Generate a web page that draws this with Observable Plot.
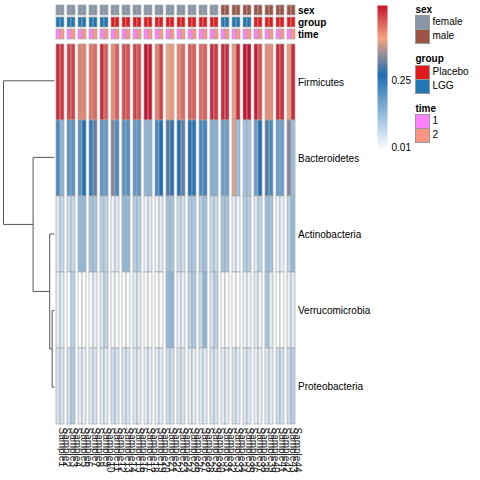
<!DOCTYPE html>
<html>
<head>
<meta charset="utf-8">
<script src="https://cdn.jsdelivr.net/npm/d3@7"></script>
<script src="https://cdn.jsdelivr.net/npm/@observablehq/plot@0.6"></script>
<style>
  html, body { margin: 0; padding: 0; background: #fff; }
  #chart { position: relative; width: 480px; height: 480px; overflow: hidden; background: #fff;
           font-family: "Liberation Sans", Arial, Helvetica, sans-serif; color: #000; }
  #chart > * { position: absolute; }
  .lg-title { font-weight: bold; font-size: 10px; line-height: 12px; }
  .lg-label { font-size: 10px; line-height: 14px; }
  .lg-swatch { box-sizing: border-box; border: 1px solid #999; }
</style>
</head>
<body>
<div id="chart"></div>
<script>
// ---------------- data ----------------
const subjects = ["P01","P02","P03","P04","P05","P06","P07","P08","P09","P10","P11",
                  "P12","P13","P14","P15","P16","P17","P18","P19","P20","P21","P22"];
const timePoints = ["1", "2"];
const sampleLabels = Array.from({length: 44}, (_, i) => "Sample" + (i + 1));
const sexBySubject = ["female","female","female","female","female","female","female","female",
                      "female","female","female","female","female","female","female",
                      "male","male","male","male","male","male","male"];
const groupBySubject = ["LGG","LGG","LGG","LGG","LGG","Placebo","Placebo","Placebo","Placebo",
                        "Placebo","Placebo","Placebo","Placebo","Placebo","Placebo",
                        "LGG","LGG","LGG","Placebo","Placebo","Placebo","Placebo"];
const phyla = ["Firmicutes","Bacteroidetes","Actinobacteria","Verrucomicrobia","Proteobacteria"];

// values per sample (subject order, time 1 then time 2)
const firmicutes = [0.50,0.49, 0.48,0.48, 0.43,0.43, 0.44,0.45, 0.50,0.46, 0.42,0.46, 0.47,0.47,
  0.48,0.47, 0.52,0.51, 0.43,0.48, 0.40,0.41, 0.43,0.45, 0.46,0.46, 0.45,0.46, 0.50,0.49,
  0.50,0.50, 0.41,0.50, 0.52,0.52, 0.51,0.47, 0.42,0.42, 0.50,0.50, 0.41,0.50];
const bacteroidetes = [0.22,0.14, 0.20,0.20, 0.20,0.27, 0.25,0.31, 0.20,0.19, 0.33,0.22, 0.20,0.21,
  0.19,0.20, 0.13,0.14, 0.22,0.27, 0.30,0.28, 0.27,0.31, 0.27,0.26, 0.22,0.23, 0.15,0.15,
  0.18,0.18, 0.39,0.12, 0.11,0.11, 0.18,0.27, 0.30,0.22, 0.18,0.18, 0.33,0.12];
const actinobacteria = [0.04,0.07, 0.06,0.07, 0.13,0.13, 0.11,0.11, 0.09,0.08, 0.02,0.04, 0.13,0.13,
  0.09,0.09, 0.02,0.04, 0.02,0.04, 0.11,0.11, 0.07,0.06, 0.10,0.10, 0.09,0.12, 0.07,0.07,
  0.11,0.11, 0.03,0.02, 0.09,0.09, 0.04,0.08, 0.12,0.11, 0.02,0.03, 0.08,0.13];
const verrucomicrobia = [0.03,0.04, 0.01,0.09, 0.005,0.005, 0.01,0.03, 0.04,0.08, 0.01,0.01, 0.005,0.01,
  0.04,0.04, 0.005,0.01, 0.005,0.005, 0.13,0.14, 0.03,0.03, 0.08,0.10, 0.07,0.14, 0.05,0.09,
  0.01,0.01, 0.005,0.005, 0.02,0.02, 0.04,0.02, 0.11,0.04, 0.005,0.005, 0.03,0.04];
const proteobacteria = [0.05,0.05, 0.06,0.10, 0.03,0.03, 0.04,0.05, 0.04,0.04, 0.06,0.05, 0.05,0.05,
  0.045,0.04, 0.035,0.035, 0.035,0.04, 0.06,0.06, 0.05,0.05, 0.035,0.035, 0.04,0.04, 0.05,0.05,
  0.035,0.035, 0.05,0.04, 0.045,0.045, 0.03,0.03, 0.045,0.04, 0.06,0.06, 0.065,0.09];

// row dendrogram (hclust-like merges and heights)
const treeMerges = [["Verrucomicrobia","Proteobacteria"], ["Actinobacteria","n0"],
                    ["Bacteroidetes","n1"], ["Firmicutes","n2"]];
const treeHeights = [0.046, 0.094, 0.42, 1.0];

// colours
const heatStops = [0, 0.27, 0.40, 0.52];
const heatColors = ["#ffffff", "#1f6fb4", "#f4a582", "#c8102e"];
const legendRange = [-0.011, 0.518];
const legendTicks = [0.01, 0.25];
const sexLevels = ["female", "male"];
const sexColors = ["#8797a8", "#9f5345"];
const groupLevels = ["Placebo", "LGG"];
const groupColors = ["#e31a1c", "#1f78b4"];
const timeColors = ["#ff80ff", "#fc9484"];

// ---------------- build tables ----------------
const seriesByPhylum = {Firmicutes: firmicutes, Bacteroidetes: bacteroidetes,
  Actinobacteria: actinobacteria, Verrucomicrobia: verrucomicrobia, Proteobacteria: proteobacteria};
const samples = [];
subjects.forEach((s, i) => timePoints.forEach((t, j) => {
  samples.push({subject: s, time: t, label: sampleLabels[i * 2 + j], idx: i * 2 + j,
                sex: sexBySubject[i], group: groupBySubject[i]});
}));
const heatCells = [];
for (const p of phyla) for (const s of samples)
  heatCells.push({subject: s.subject, time: s.time, phylum: p, value: seriesByPhylum[p][s.idx]});
const annoRows = ["sex", "group", "time"];
const annoCells = [];
for (const s of samples) {
  annoCells.push({subject: s.subject, time: s.time, row: "sex", level: s.sex});
  annoCells.push({subject: s.subject, time: s.time, row: "group", level: s.group});
  annoCells.push({subject: s.subject, time: s.time, row: "time", level: s.time});
}

const font = '"Liberation Sans", Arial, Helvetica, sans-serif';
const baseStyle = {fontFamily: font, fontSize: "10px", background: "transparent", overflow: "visible"};
const heatColorScale = {type: "linear", domain: heatStops, range: heatColors,
                        interpolate: d3.interpolateRgb, clamp: true};
const chart = document.getElementById("chart");
function place(el, left, top) { el.style.left = left + "px"; el.style.top = top + "px"; chart.appendChild(el); }

const mLeft = 54, mRight = 183, fxPad = 0.284;
const cellStroke = "#a8a8a8", cellStrokeWidth = 0.7;

// ---------------- heatmap ----------------
const heat = Plot.plot({
  width: 480, height: 480, marginTop: 42, marginBottom: 55, marginLeft: mLeft, marginRight: mRight,
  style: baseStyle,
  fx: {domain: subjects, paddingInner: fxPad, paddingOuter: 0, axis: null, label: null},
  x: {domain: timePoints, padding: 0, axis: null},
  y: {domain: phyla, padding: 0, label: null},
  color: heatColorScale,
  marks: [
    Plot.cell(heatCells, {fx: "subject", x: "time", y: "phylum", fill: "value",
                          stroke: cellStroke, strokeWidth: cellStrokeWidth}),
    Plot.text(samples, {fx: "subject", x: "time", text: "label", frameAnchor: "bottom", dy: 2,
                        rotate: 90, textAnchor: "start", fontSize: 10, fill: "#222"}),
    Plot.axisY({anchor: "right", tickSize: 0, tickPadding: 2.5, label: null, fontSize: 10})
  ]
});
place(heat, 0, 0);

// ---------------- annotation bars ----------------
const anno = Plot.plot({
  width: 480, height: 41, marginTop: 5, marginBottom: 1, marginLeft: mLeft, marginRight: mRight,
  style: baseStyle,
  fx: {domain: subjects, paddingInner: fxPad, paddingOuter: 0, axis: null, label: null},
  x: {domain: timePoints, padding: 0, axis: null},
  y: {domain: annoRows, paddingInner: 0.15, paddingOuter: 0, label: null},
  color: {type: "ordinal", domain: [...sexLevels, ...groupLevels, ...timePoints],
          range: [...sexColors, ...groupColors, ...timeColors]},
  marks: [
    Plot.cell(annoCells, {fx: "subject", x: "time", y: "row", fill: "level",
                          stroke: cellStroke, strokeWidth: cellStrokeWidth}),
    Plot.axisY({anchor: "right", tickSize: 0, tickPadding: 2.5, label: null, fontWeight: "bold", fontSize: 10})
  ]
});
place(anno, 0, 0);

// ---------------- dendrogram ----------------
const nodePos = {};
phyla.forEach((p, i) => nodePos[p] = {y: i, h: 0});
const treeLinks = [];
treeMerges.forEach(([a, b], k) => {
  const h = treeHeights[k], A = nodePos[a], B = nodePos[b];
  treeLinks.push({x1: h, x2: h, y1: A.y, y2: B.y});
  treeLinks.push({x1: A.h, x2: h, y1: A.y, y2: A.y});
  treeLinks.push({x1: B.h, x2: h, y1: B.y, y2: B.y});
  nodePos["n" + k] = {y: (A.y + B.y) / 2, h};
});
const dendro = Plot.plot({
  width: 56, height: 480, marginTop: 42, marginBottom: 55, marginLeft: 3, marginRight: 2,
  style: baseStyle,
  x: {domain: [1, 0], axis: null},
  y: {domain: [phyla.length - 0.5, -0.5], axis: null},
  marks: [
    Plot.link(treeLinks, {x1: "x1", x2: "x2", y1: "y1", y2: "y2", stroke: "#555", strokeWidth: 1})
  ]
});
place(dendro, 0, 0);

// ---------------- colour bar legend ----------------
const colorbar = Plot.plot({
  width: 60, height: 160, marginLeft: 7, marginRight: 43, marginTop: 5, marginBottom: 7,
  style: baseStyle,
  x: {domain: [0, 1], axis: null},
  y: {domain: legendRange, label: null},
  color: heatColorScale,
  marks: [
    Plot.raster({fill: (x, y) => y, x1: 0, x2: 1, y1: legendRange[0], y2: legendRange[1],
                 width: 1, height: 148, imageRendering: "auto"}),
    Plot.axisY({anchor: "right", ticks: legendTicks, tickFormat: d3.format(".2f"), tickSize: 0,
                tickPadding: 4, label: null, fontSize: 10})
  ]
});
place(colorbar, 370, 0);

// ---------------- annotation legends ----------------
const annoLegend = [
  {title: "sex", levels: sexLevels, colors: sexColors},
  {title: "group", levels: groupLevels, colors: groupColors},
  {title: "time", levels: timePoints, colors: timeColors}
];
let cy = 9.5;
for (const sec of annoLegend) {
  const t = document.createElement("div");
  t.className = "lg-title"; t.textContent = sec.title;
  place(t, 415.5, cy - 6);
  let sy = cy + 5.5;
  sec.levels.forEach((lv, k) => {
    const sw = document.createElement("div");
    sw.className = "lg-swatch";
    sw.style.width = "15px"; sw.style.height = "15px"; sw.style.background = sec.colors[k];
    place(sw, 415, sy + k * 14);
    const lb = document.createElement("div");
    lb.className = "lg-label"; lb.textContent = lv;
    place(lb, 432.5, sy + k * 14);
  });
  cy = sy + 14 * sec.levels.length + 16;
}
</script>
</body>
</html>
